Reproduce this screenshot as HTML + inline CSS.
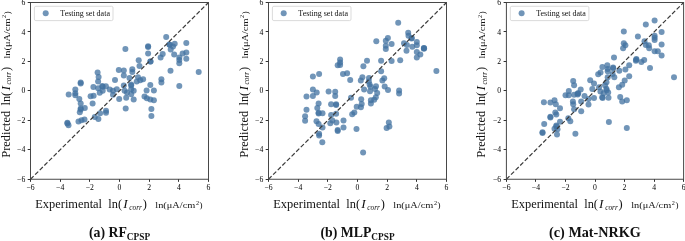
<!DOCTYPE html><html><head><meta charset="utf-8"><style>html,body{margin:0;padding:0;background:#fff}svg{display:block;will-change:transform;}text{font-family:"Liberation Serif",serif;}</style></head><body>
<svg width="685" height="241" viewBox="0 0 685 241">
<rect width="685" height="241" fill="#fff"/>
<g>
<g fill="rgba(66,114,160,0.75)">
<circle cx="166.2" cy="37.0" r="3.0"/>
<circle cx="186.3" cy="42.9" r="3.0"/>
<circle cx="174.7" cy="43.8" r="3.0"/>
<circle cx="169.3" cy="44.4" r="3.0"/>
<circle cx="169.7" cy="44.8" r="3.0"/>
<circle cx="173.0" cy="46.6" r="3.0"/>
<circle cx="170.7" cy="49.4" r="3.0"/>
<circle cx="148.1" cy="46.2" r="3.0"/>
<circle cx="148.1" cy="47.1" r="3.0"/>
<circle cx="125.4" cy="48.9" r="3.0"/>
<circle cx="148.1" cy="53.5" r="3.0"/>
<circle cx="162.7" cy="54.0" r="3.0"/>
<circle cx="160.6" cy="57.4" r="3.0"/>
<circle cx="174.2" cy="54.4" r="3.0"/>
<circle cx="186.3" cy="52.4" r="3.0"/>
<circle cx="182.6" cy="53.5" r="3.0"/>
<circle cx="179.3" cy="57.4" r="3.0"/>
<circle cx="179.3" cy="59.9" r="3.0"/>
<circle cx="186.3" cy="58.7" r="3.0"/>
<circle cx="138.7" cy="60.2" r="3.0"/>
<circle cx="150.3" cy="61.5" r="3.0"/>
<circle cx="118.8" cy="70.1" r="3.0"/>
<circle cx="123.8" cy="70.6" r="3.0"/>
<circle cx="97.6" cy="72.4" r="3.0"/>
<circle cx="98.6" cy="77.1" r="3.0"/>
<circle cx="123.8" cy="75.4" r="3.0"/>
<circle cx="115.0" cy="80.1" r="3.0"/>
<circle cx="98.1" cy="81.6" r="3.0"/>
<circle cx="80.7" cy="82.4" r="3.0"/>
<circle cx="80.7" cy="83.4" r="3.0"/>
<circle cx="93.4" cy="87.0" r="3.0"/>
<circle cx="102.2" cy="85.9" r="3.0"/>
<circle cx="102.7" cy="86.7" r="3.0"/>
<circle cx="105.9" cy="86.2" r="3.0"/>
<circle cx="98.1" cy="88.2" r="3.0"/>
<circle cx="123.8" cy="85.4" r="3.0"/>
<circle cx="75.3" cy="89.5" r="3.0"/>
<circle cx="109.7" cy="89.5" r="3.0"/>
<circle cx="113.0" cy="90.8" r="3.0"/>
<circle cx="116.8" cy="89.2" r="3.0"/>
<circle cx="102.7" cy="90.8" r="3.0"/>
<circle cx="99.7" cy="92.8" r="3.0"/>
<circle cx="68.7" cy="94.5" r="3.0"/>
<circle cx="75.3" cy="93.2" r="3.0"/>
<circle cx="124.6" cy="90.8" r="3.0"/>
<circle cx="113.0" cy="94.8" r="3.0"/>
<circle cx="150.6" cy="61.6" r="3.0"/>
<circle cx="179.3" cy="63.3" r="3.0"/>
<circle cx="139.5" cy="66.0" r="3.0"/>
<circle cx="132.3" cy="69.3" r="3.0"/>
<circle cx="132.3" cy="72.1" r="3.0"/>
<circle cx="170.5" cy="70.8" r="3.0"/>
<circle cx="198.7" cy="72.1" r="3.0"/>
<circle cx="138.0" cy="77.2" r="3.0"/>
<circle cx="143.1" cy="79.2" r="3.0"/>
<circle cx="140.2" cy="80.2" r="3.0"/>
<circle cx="129.5" cy="77.9" r="3.0"/>
<circle cx="136.7" cy="81.4" r="3.0"/>
<circle cx="161.4" cy="79.2" r="3.0"/>
<circle cx="161.4" cy="82.6" r="3.0"/>
<circle cx="150.3" cy="85.0" r="3.0"/>
<circle cx="179.3" cy="85.9" r="3.0"/>
<circle cx="131.2" cy="84.5" r="3.0"/>
<circle cx="131.2" cy="85.4" r="3.0"/>
<circle cx="127.0" cy="92.5" r="3.0"/>
<circle cx="131.2" cy="89.2" r="3.0"/>
<circle cx="133.7" cy="90.8" r="3.0"/>
<circle cx="131.2" cy="94.2" r="3.0"/>
<circle cx="146.6" cy="90.4" r="3.0"/>
<circle cx="153.9" cy="90.4" r="3.0"/>
<circle cx="75.3" cy="95.3" r="3.0"/>
<circle cx="90.6" cy="96.2" r="3.0"/>
<circle cx="93.6" cy="95.7" r="3.0"/>
<circle cx="79.3" cy="99.1" r="3.0"/>
<circle cx="119.2" cy="99.1" r="3.0"/>
<circle cx="80.7" cy="103.6" r="3.0"/>
<circle cx="92.6" cy="103.6" r="3.0"/>
<circle cx="84.8" cy="108.1" r="3.0"/>
<circle cx="80.7" cy="108.6" r="3.0"/>
<circle cx="80.7" cy="109.6" r="3.0"/>
<circle cx="79.8" cy="112.2" r="3.0"/>
<circle cx="106.0" cy="110.8" r="3.0"/>
<circle cx="106.0" cy="112.7" r="3.0"/>
<circle cx="100.1" cy="113.2" r="3.0"/>
<circle cx="94.8" cy="116.9" r="3.0"/>
<circle cx="98.4" cy="118.9" r="3.0"/>
<circle cx="84.5" cy="119.4" r="3.0"/>
<circle cx="81.5" cy="120.2" r="3.0"/>
<circle cx="78.5" cy="121.5" r="3.0"/>
<circle cx="67.4" cy="122.7" r="3.0"/>
<circle cx="67.4" cy="123.4" r="3.0"/>
<circle cx="68.5" cy="125.2" r="3.0"/>
<circle cx="126.2" cy="97.8" r="3.0"/>
<circle cx="133.7" cy="99.5" r="3.0"/>
<circle cx="144.5" cy="96.5" r="3.0"/>
<circle cx="146.9" cy="98.3" r="3.0"/>
<circle cx="150.3" cy="99.5" r="3.0"/>
<circle cx="153.9" cy="100.3" r="3.0"/>
<circle cx="125.7" cy="108.6" r="3.0"/>
<circle cx="151.4" cy="109.1" r="3.0"/>
<circle cx="151.4" cy="116.1" r="3.0"/>
</g>
<line x1="30.5" y1="179.25" x2="208.5" y2="2.5" stroke="#3a3a3a" stroke-width="1.2" stroke-dasharray="4.4 2.1"/>
<rect x="30.5" y="2.5" width="178" height="176.75" fill="none" stroke="#484848" stroke-width="1"/>
<line x1="30.50" y1="179.25" x2="30.50" y2="181.85" stroke="#333" stroke-width="1"/>
<line x1="27.7" y1="179.50" x2="30.5" y2="179.50" stroke="#333" stroke-width="1"/>
<text x="30.50" y="190.25"  font-size="7.7" text-anchor="middle" fill="#000">−6</text>
<text x="25.3" y="181.85"  font-size="7.7" text-anchor="end" fill="#000">−6</text>
<line x1="60.50" y1="179.25" x2="60.50" y2="181.85" stroke="#333" stroke-width="1"/>
<line x1="27.7" y1="149.50" x2="30.5" y2="149.50" stroke="#333" stroke-width="1"/>
<text x="60.17" y="190.25"  font-size="7.7" text-anchor="middle" fill="#000">−4</text>
<text x="25.3" y="152.39"  font-size="7.7" text-anchor="end" fill="#000">−4</text>
<line x1="89.50" y1="179.25" x2="89.50" y2="181.85" stroke="#333" stroke-width="1"/>
<line x1="27.7" y1="120.50" x2="30.5" y2="120.50" stroke="#333" stroke-width="1"/>
<text x="89.83" y="190.25"  font-size="7.7" text-anchor="middle" fill="#000">−2</text>
<text x="25.3" y="122.93"  font-size="7.7" text-anchor="end" fill="#000">−2</text>
<line x1="119.50" y1="179.25" x2="119.50" y2="181.85" stroke="#333" stroke-width="1"/>
<line x1="27.7" y1="90.50" x2="30.5" y2="90.50" stroke="#333" stroke-width="1"/>
<text x="119.50" y="190.25"  font-size="7.7" text-anchor="middle" fill="#000">0</text>
<text x="25.3" y="93.47"  font-size="7.7" text-anchor="end" fill="#000">0</text>
<line x1="149.50" y1="179.25" x2="149.50" y2="181.85" stroke="#333" stroke-width="1"/>
<line x1="27.7" y1="61.50" x2="30.5" y2="61.50" stroke="#333" stroke-width="1"/>
<text x="149.17" y="190.25"  font-size="7.7" text-anchor="middle" fill="#000">2</text>
<text x="25.3" y="64.02"  font-size="7.7" text-anchor="end" fill="#000">2</text>
<line x1="178.50" y1="179.25" x2="178.50" y2="181.85" stroke="#333" stroke-width="1"/>
<line x1="27.7" y1="31.50" x2="30.5" y2="31.50" stroke="#333" stroke-width="1"/>
<text x="178.83" y="190.25"  font-size="7.7" text-anchor="middle" fill="#000">4</text>
<text x="25.3" y="34.56"  font-size="7.7" text-anchor="end" fill="#000">4</text>
<line x1="208.50" y1="179.25" x2="208.50" y2="181.85" stroke="#333" stroke-width="1"/>
<line x1="27.7" y1="2.50" x2="30.5" y2="2.50" stroke="#333" stroke-width="1"/>
<text x="208.50" y="190.25"  font-size="7.7" text-anchor="middle" fill="#000">6</text>
<text x="25.3" y="5.10"  font-size="7.7" text-anchor="end" fill="#000">6</text>
<rect x="34.4" y="6.3" width="78.6" height="14.3" rx="1.5" fill="#fff" fill-opacity="0.8" stroke="#ccc" stroke-width="0.7"/>
<circle cx="45.7" cy="13.3" r="3" fill="rgba(66,114,160,0.75)"/>
<text x="60.3" y="15.9"  font-size="8" fill="#111">Testing set data</text>
<g transform="translate(35.3,207.9)"><text x="0" y="0"  font-size="12.4" fill="#111">Experimental</text><text x="73.0" y="0"  font-size="12.4" fill="#111" textLength="13.7" lengthAdjust="spacingAndGlyphs">ln(</text><text x="87.9" y="0"  font-size="13.4" font-style="italic" fill="#111">I</text><text x="94.0" y="1.8"  font-size="8.7" font-style="italic" fill="#111" textLength="12.6" lengthAdjust="spacingAndGlyphs">corr</text><text x="107.4" y="0"  font-size="12.4" fill="#111">)</text><text x="120.0" y="0"  font-size="9" fill="#111" textLength="40" lengthAdjust="spacingAndGlyphs">ln(μA/cm</text><text x="160.6" y="-3.2"  font-size="6.2" fill="#111">2</text><text x="164.2" y="0"  font-size="9" fill="#111">)</text></g>
<g transform="translate(9.5,157.7) rotate(-90)"><text x="0" y="0"  font-size="12.4" fill="#111">Predicted</text><text x="52.2" y="0"  font-size="12.4" fill="#111" textLength="13.7" lengthAdjust="spacingAndGlyphs">ln(</text><text x="67.10000000000001" y="0"  font-size="13.4" font-style="italic" fill="#111">I</text><text x="73.2" y="1.8"  font-size="8.7" font-style="italic" fill="#111" textLength="12.6" lengthAdjust="spacingAndGlyphs">corr</text><text x="86.6" y="0"  font-size="12.4" fill="#111">)</text><text x="99.2" y="0"  font-size="9" fill="#111" textLength="40" lengthAdjust="spacingAndGlyphs">ln(μA/cm</text><text x="139.8" y="-3.2"  font-size="6.2" fill="#111">2</text><text x="143.4" y="0"  font-size="9" fill="#111">)</text></g>
<text x="119.50" y="237"  font-size="13.8" font-weight="bold" text-anchor="middle" fill="#111">(a) RF<tspan font-size="9.3" dy="3">CPSP</tspan></text>
</g>
<g>
<g fill="rgba(66,114,160,0.75)">
<circle cx="398.2" cy="22.8" r="3.0"/>
<circle cx="408.2" cy="32.7" r="3.0"/>
<circle cx="408.5" cy="35.7" r="3.0"/>
<circle cx="411.5" cy="38.5" r="3.0"/>
<circle cx="387.9" cy="37.9" r="3.0"/>
<circle cx="385.8" cy="40.7" r="3.0"/>
<circle cx="376.3" cy="41.2" r="3.0"/>
<circle cx="416.8" cy="41.9" r="3.0"/>
<circle cx="404.0" cy="43.2" r="3.0"/>
<circle cx="391.6" cy="44.0" r="3.0"/>
<circle cx="406.9" cy="44.9" r="3.0"/>
<circle cx="416.8" cy="45.2" r="3.0"/>
<circle cx="385.8" cy="45.7" r="3.0"/>
<circle cx="412.3" cy="46.8" r="3.0"/>
<circle cx="385.8" cy="49.1" r="3.0"/>
<circle cx="423.9" cy="48.0" r="3.0"/>
<circle cx="423.9" cy="48.8" r="3.0"/>
<circle cx="424.1" cy="48.3" r="3.0"/>
<circle cx="406.5" cy="50.8" r="3.0"/>
<circle cx="416.8" cy="52.0" r="3.0"/>
<circle cx="420.3" cy="54.6" r="3.0"/>
<circle cx="416.8" cy="57.4" r="3.0"/>
<circle cx="340.1" cy="59.6" r="3.0"/>
<circle cx="340.1" cy="62.4" r="3.0"/>
<circle cx="337.7" cy="65.2" r="3.0"/>
<circle cx="340.1" cy="64.9" r="3.0"/>
<circle cx="367.0" cy="60.7" r="3.0"/>
<circle cx="381.1" cy="60.7" r="3.0"/>
<circle cx="391.6" cy="61.1" r="3.0"/>
<circle cx="400.2" cy="60.2" r="3.0"/>
<circle cx="363.4" cy="66.2" r="3.0"/>
<circle cx="381.1" cy="71.2" r="3.0"/>
<circle cx="436.4" cy="70.9" r="3.0"/>
<circle cx="343.0" cy="74.0" r="3.0"/>
<circle cx="347.1" cy="73.2" r="3.0"/>
<circle cx="319.1" cy="74.0" r="3.0"/>
<circle cx="312.9" cy="76.5" r="3.0"/>
<circle cx="350.2" cy="80.1" r="3.0"/>
<circle cx="312.9" cy="89.4" r="3.0"/>
<circle cx="316.7" cy="92.6" r="3.0"/>
<circle cx="328.6" cy="91.4" r="3.0"/>
<circle cx="335.2" cy="91.8" r="3.0"/>
<circle cx="306.5" cy="96.4" r="3.0"/>
<circle cx="312.9" cy="95.9" r="3.0"/>
<circle cx="335.2" cy="95.9" r="3.0"/>
<circle cx="351.0" cy="97.7" r="3.0"/>
<circle cx="318.6" cy="103.5" r="3.0"/>
<circle cx="331.1" cy="104.2" r="3.0"/>
<circle cx="336.1" cy="104.2" r="3.0"/>
<circle cx="336.1" cy="105.0" r="3.0"/>
<circle cx="317.3" cy="108.0" r="3.0"/>
<circle cx="306.5" cy="109.7" r="3.0"/>
<circle cx="361.2" cy="99.2" r="3.0"/>
<circle cx="375.8" cy="97.2" r="3.0"/>
<circle cx="370.9" cy="100.2" r="3.0"/>
<circle cx="374.2" cy="99.7" r="3.0"/>
<circle cx="361.7" cy="103.9" r="3.0"/>
<circle cx="370.9" cy="103.5" r="3.0"/>
<circle cx="356.7" cy="106.8" r="3.0"/>
<circle cx="360.9" cy="107.2" r="3.0"/>
<circle cx="399.1" cy="90.6" r="3.0"/>
<circle cx="399.1" cy="93.6" r="3.0"/>
<circle cx="411.8" cy="38.0" r="3.0"/>
<circle cx="362.4" cy="77.3" r="3.0"/>
<circle cx="360.8" cy="80.4" r="3.0"/>
<circle cx="369.0" cy="78.1" r="3.0"/>
<circle cx="368.8" cy="81.5" r="3.0"/>
<circle cx="369.6" cy="84.4" r="3.0"/>
<circle cx="370.5" cy="86.8" r="3.0"/>
<circle cx="376.0" cy="86.2" r="3.0"/>
<circle cx="375.0" cy="88.9" r="3.0"/>
<circle cx="364.1" cy="89.6" r="3.0"/>
<circle cx="384.2" cy="78.3" r="3.0"/>
<circle cx="382.4" cy="80.5" r="3.0"/>
<circle cx="384.7" cy="86.4" r="3.0"/>
<circle cx="388.0" cy="90.1" r="3.0"/>
<circle cx="370.0" cy="91.3" r="3.0"/>
<circle cx="377.2" cy="93.0" r="3.0"/>
<circle cx="318.6" cy="112.7" r="3.0"/>
<circle cx="318.6" cy="113.5" r="3.0"/>
<circle cx="322.5" cy="113.3" r="3.0"/>
<circle cx="305.1" cy="116.3" r="3.0"/>
<circle cx="305.1" cy="120.8" r="3.0"/>
<circle cx="331.1" cy="115.0" r="3.0"/>
<circle cx="336.1" cy="113.8" r="3.0"/>
<circle cx="354.3" cy="112.5" r="3.0"/>
<circle cx="352.2" cy="114.3" r="3.0"/>
<circle cx="316.5" cy="121.3" r="3.0"/>
<circle cx="318.6" cy="124.1" r="3.0"/>
<circle cx="322.5" cy="127.6" r="3.0"/>
<circle cx="332.4" cy="120.4" r="3.0"/>
<circle cx="330.3" cy="123.3" r="3.0"/>
<circle cx="336.4" cy="122.6" r="3.0"/>
<circle cx="343.5" cy="120.4" r="3.0"/>
<circle cx="343.5" cy="127.6" r="3.0"/>
<circle cx="337.7" cy="130.1" r="3.0"/>
<circle cx="337.7" cy="130.9" r="3.0"/>
<circle cx="356.5" cy="129.1" r="3.0"/>
<circle cx="319.1" cy="133.7" r="3.0"/>
<circle cx="319.1" cy="135.4" r="3.0"/>
<circle cx="322.3" cy="142.3" r="3.0"/>
<circle cx="388.8" cy="122.6" r="3.0"/>
<circle cx="389.4" cy="126.6" r="3.0"/>
<circle cx="386.6" cy="127.9" r="3.0"/>
<circle cx="363.1" cy="152.4" r="3.0"/>
</g>
<line x1="268.5" y1="179.25" x2="446.5" y2="2.5" stroke="#3a3a3a" stroke-width="1.2" stroke-dasharray="4.4 2.1"/>
<rect x="268.5" y="2.5" width="178" height="176.75" fill="none" stroke="#484848" stroke-width="1"/>
<line x1="268.50" y1="179.25" x2="268.50" y2="181.85" stroke="#333" stroke-width="1"/>
<line x1="265.7" y1="179.50" x2="268.5" y2="179.50" stroke="#333" stroke-width="1"/>
<text x="268.50" y="190.25"  font-size="7.7" text-anchor="middle" fill="#000">−6</text>
<text x="263.3" y="181.85"  font-size="7.7" text-anchor="end" fill="#000">−6</text>
<line x1="298.50" y1="179.25" x2="298.50" y2="181.85" stroke="#333" stroke-width="1"/>
<line x1="265.7" y1="149.50" x2="268.5" y2="149.50" stroke="#333" stroke-width="1"/>
<text x="298.17" y="190.25"  font-size="7.7" text-anchor="middle" fill="#000">−4</text>
<text x="263.3" y="152.39"  font-size="7.7" text-anchor="end" fill="#000">−4</text>
<line x1="327.50" y1="179.25" x2="327.50" y2="181.85" stroke="#333" stroke-width="1"/>
<line x1="265.7" y1="120.50" x2="268.5" y2="120.50" stroke="#333" stroke-width="1"/>
<text x="327.83" y="190.25"  font-size="7.7" text-anchor="middle" fill="#000">−2</text>
<text x="263.3" y="122.93"  font-size="7.7" text-anchor="end" fill="#000">−2</text>
<line x1="357.50" y1="179.25" x2="357.50" y2="181.85" stroke="#333" stroke-width="1"/>
<line x1="265.7" y1="90.50" x2="268.5" y2="90.50" stroke="#333" stroke-width="1"/>
<text x="357.50" y="190.25"  font-size="7.7" text-anchor="middle" fill="#000">0</text>
<text x="263.3" y="93.47"  font-size="7.7" text-anchor="end" fill="#000">0</text>
<line x1="387.50" y1="179.25" x2="387.50" y2="181.85" stroke="#333" stroke-width="1"/>
<line x1="265.7" y1="61.50" x2="268.5" y2="61.50" stroke="#333" stroke-width="1"/>
<text x="387.17" y="190.25"  font-size="7.7" text-anchor="middle" fill="#000">2</text>
<text x="263.3" y="64.02"  font-size="7.7" text-anchor="end" fill="#000">2</text>
<line x1="416.50" y1="179.25" x2="416.50" y2="181.85" stroke="#333" stroke-width="1"/>
<line x1="265.7" y1="31.50" x2="268.5" y2="31.50" stroke="#333" stroke-width="1"/>
<text x="416.83" y="190.25"  font-size="7.7" text-anchor="middle" fill="#000">4</text>
<text x="263.3" y="34.56"  font-size="7.7" text-anchor="end" fill="#000">4</text>
<line x1="446.50" y1="179.25" x2="446.50" y2="181.85" stroke="#333" stroke-width="1"/>
<line x1="265.7" y1="2.50" x2="268.5" y2="2.50" stroke="#333" stroke-width="1"/>
<text x="446.50" y="190.25"  font-size="7.7" text-anchor="middle" fill="#000">6</text>
<text x="263.3" y="5.10"  font-size="7.7" text-anchor="end" fill="#000">6</text>
<rect x="272.4" y="6.3" width="78.6" height="14.3" rx="1.5" fill="#fff" fill-opacity="0.8" stroke="#ccc" stroke-width="0.7"/>
<circle cx="283.7" cy="13.3" r="3" fill="rgba(66,114,160,0.75)"/>
<text x="298.3" y="15.9"  font-size="8" fill="#111">Testing set data</text>
<g transform="translate(273.3,207.9)"><text x="0" y="0"  font-size="12.4" fill="#111">Experimental</text><text x="73.0" y="0"  font-size="12.4" fill="#111" textLength="13.7" lengthAdjust="spacingAndGlyphs">ln(</text><text x="87.9" y="0"  font-size="13.4" font-style="italic" fill="#111">I</text><text x="94.0" y="1.8"  font-size="8.7" font-style="italic" fill="#111" textLength="12.6" lengthAdjust="spacingAndGlyphs">corr</text><text x="107.4" y="0"  font-size="12.4" fill="#111">)</text><text x="120.0" y="0"  font-size="9" fill="#111" textLength="40" lengthAdjust="spacingAndGlyphs">ln(μA/cm</text><text x="160.6" y="-3.2"  font-size="6.2" fill="#111">2</text><text x="164.2" y="0"  font-size="9" fill="#111">)</text></g>
<g transform="translate(247.5,157.7) rotate(-90)"><text x="0" y="0"  font-size="12.4" fill="#111">Predicted</text><text x="52.2" y="0"  font-size="12.4" fill="#111" textLength="13.7" lengthAdjust="spacingAndGlyphs">ln(</text><text x="67.10000000000001" y="0"  font-size="13.4" font-style="italic" fill="#111">I</text><text x="73.2" y="1.8"  font-size="8.7" font-style="italic" fill="#111" textLength="12.6" lengthAdjust="spacingAndGlyphs">corr</text><text x="86.6" y="0"  font-size="12.4" fill="#111">)</text><text x="99.2" y="0"  font-size="9" fill="#111" textLength="40" lengthAdjust="spacingAndGlyphs">ln(μA/cm</text><text x="139.8" y="-3.2"  font-size="6.2" fill="#111">2</text><text x="143.4" y="0"  font-size="9" fill="#111">)</text></g>
<text x="357.50" y="237"  font-size="13.8" font-weight="bold" text-anchor="middle" fill="#111">(b) MLP<tspan font-size="9.3" dy="3">CPSP</tspan></text>
</g>
<g>
<g fill="rgba(66,114,160,0.75)">
<circle cx="654.6" cy="20.4" r="3.0"/>
<circle cx="645.8" cy="24.6" r="3.0"/>
<circle cx="623.8" cy="31.6" r="3.0"/>
<circle cx="661.6" cy="31.9" r="3.0"/>
<circle cx="637.9" cy="36.5" r="3.0"/>
<circle cx="654.6" cy="35.7" r="3.0"/>
<circle cx="654.6" cy="37.7" r="3.0"/>
<circle cx="654.6" cy="39.9" r="3.0"/>
<circle cx="644.5" cy="41.2" r="3.0"/>
<circle cx="623.8" cy="43.2" r="3.0"/>
<circle cx="625.4" cy="45.2" r="3.0"/>
<circle cx="645.8" cy="44.9" r="3.0"/>
<circle cx="648.8" cy="45.2" r="3.0"/>
<circle cx="661.6" cy="44.4" r="3.0"/>
<circle cx="623.1" cy="48.3" r="3.0"/>
<circle cx="649.2" cy="48.3" r="3.0"/>
<circle cx="654.6" cy="51.3" r="3.0"/>
<circle cx="657.8" cy="51.3" r="3.0"/>
<circle cx="661.6" cy="55.4" r="3.0"/>
<circle cx="614.0" cy="57.4" r="3.0"/>
<circle cx="636.4" cy="59.1" r="3.0"/>
<circle cx="635.9" cy="60.7" r="3.0"/>
<circle cx="644.2" cy="59.9" r="3.0"/>
<circle cx="641.4" cy="62.1" r="3.0"/>
<circle cx="629.2" cy="65.2" r="3.0"/>
<circle cx="650.0" cy="67.9" r="3.0"/>
<circle cx="607.3" cy="65.2" r="3.0"/>
<circle cx="602.4" cy="66.9" r="3.0"/>
<circle cx="613.1" cy="67.5" r="3.0"/>
<circle cx="613.1" cy="68.2" r="3.0"/>
<circle cx="607.7" cy="69.0" r="3.0"/>
<circle cx="607.7" cy="71.2" r="3.0"/>
<circle cx="625.4" cy="69.5" r="3.0"/>
<circle cx="619.3" cy="70.7" r="3.0"/>
<circle cx="600.5" cy="72.4" r="3.0"/>
<circle cx="598.2" cy="74.3" r="3.0"/>
<circle cx="612.6" cy="74.0" r="3.0"/>
<circle cx="629.2" cy="76.2" r="3.0"/>
<circle cx="607.7" cy="77.3" r="3.0"/>
<circle cx="614.3" cy="77.3" r="3.0"/>
<circle cx="674.0" cy="77.3" r="3.0"/>
<circle cx="590.2" cy="80.3" r="3.0"/>
<circle cx="573.2" cy="81.0" r="3.0"/>
<circle cx="594.0" cy="83.5" r="3.0"/>
<circle cx="574.1" cy="85.3" r="3.0"/>
<circle cx="624.7" cy="80.6" r="3.0"/>
<circle cx="622.2" cy="84.8" r="3.0"/>
<circle cx="618.9" cy="87.3" r="3.0"/>
<circle cx="592.3" cy="88.9" r="3.0"/>
<circle cx="580.7" cy="89.4" r="3.0"/>
<circle cx="568.8" cy="90.9" r="3.0"/>
<circle cx="565.5" cy="95.2" r="3.0"/>
<circle cx="568.8" cy="95.2" r="3.0"/>
<circle cx="574.1" cy="94.7" r="3.0"/>
<circle cx="577.7" cy="93.6" r="3.0"/>
<circle cx="577.7" cy="94.4" r="3.0"/>
<circle cx="584.5" cy="96.1" r="3.0"/>
<circle cx="594.0" cy="98.1" r="3.0"/>
<circle cx="620.2" cy="96.9" r="3.0"/>
<circle cx="622.2" cy="101.4" r="3.0"/>
<circle cx="626.8" cy="100.2" r="3.0"/>
<circle cx="543.9" cy="102.2" r="3.0"/>
<circle cx="550.4" cy="102.5" r="3.0"/>
<circle cx="554.5" cy="100.2" r="3.0"/>
<circle cx="555.8" cy="104.2" r="3.0"/>
<circle cx="560.0" cy="108.3" r="3.0"/>
<circle cx="572.9" cy="101.4" r="3.0"/>
<circle cx="573.2" cy="104.2" r="3.0"/>
<circle cx="581.2" cy="101.4" r="3.0"/>
<circle cx="588.5" cy="98.9" r="3.0"/>
<circle cx="588.5" cy="104.4" r="3.0"/>
<circle cx="574.1" cy="109.3" r="3.0"/>
<circle cx="581.2" cy="111.3" r="3.0"/>
<circle cx="636.2" cy="59.8" r="3.0"/>
<circle cx="578.2" cy="93.2" r="3.0"/>
<circle cx="606.5" cy="82.3" r="3.0"/>
<circle cx="605.0" cy="85.3" r="3.0"/>
<circle cx="606.4" cy="88.8" r="3.0"/>
<circle cx="606.6" cy="90.3" r="3.0"/>
<circle cx="600.4" cy="91.6" r="3.0"/>
<circle cx="599.1" cy="87.2" r="3.0"/>
<circle cx="603.6" cy="93.2" r="3.0"/>
<circle cx="608.2" cy="92.6" r="3.0"/>
<circle cx="602.2" cy="97.2" r="3.0"/>
<circle cx="602.6" cy="98.0" r="3.0"/>
<circle cx="608.5" cy="97.8" r="3.0"/>
<circle cx="555.3" cy="112.5" r="3.0"/>
<circle cx="556.3" cy="114.6" r="3.0"/>
<circle cx="550.4" cy="116.8" r="3.0"/>
<circle cx="550.4" cy="117.6" r="3.0"/>
<circle cx="568.3" cy="118.3" r="3.0"/>
<circle cx="570.3" cy="121.3" r="3.0"/>
<circle cx="560.0" cy="121.8" r="3.0"/>
<circle cx="544.2" cy="124.1" r="3.0"/>
<circle cx="556.3" cy="125.6" r="3.0"/>
<circle cx="556.3" cy="126.4" r="3.0"/>
<circle cx="554.5" cy="128.7" r="3.0"/>
<circle cx="557.5" cy="129.2" r="3.0"/>
<circle cx="542.5" cy="132.2" r="3.0"/>
<circle cx="542.5" cy="133.1" r="3.0"/>
<circle cx="557.0" cy="134.6" r="3.0"/>
<circle cx="575.4" cy="133.7" r="3.0"/>
<circle cx="608.9" cy="122.1" r="3.0"/>
<circle cx="626.8" cy="127.9" r="3.0"/>
</g>
<line x1="506.4" y1="179.25" x2="683.5999999999999" y2="2.5" stroke="#3a3a3a" stroke-width="1.2" stroke-dasharray="4.4 2.1"/>
<rect x="506.4" y="2.5" width="177.2" height="176.75" fill="none" stroke="#484848" stroke-width="1"/>
<line x1="506.50" y1="179.25" x2="506.50" y2="181.85" stroke="#333" stroke-width="1"/>
<line x1="503.59999999999997" y1="179.50" x2="506.4" y2="179.50" stroke="#333" stroke-width="1"/>
<text x="506.40" y="190.25"  font-size="7.7" text-anchor="middle" fill="#000">−6</text>
<text x="501.2" y="181.85"  font-size="7.7" text-anchor="end" fill="#000">−6</text>
<line x1="535.50" y1="179.25" x2="535.50" y2="181.85" stroke="#333" stroke-width="1"/>
<line x1="503.59999999999997" y1="149.50" x2="506.4" y2="149.50" stroke="#333" stroke-width="1"/>
<text x="535.93" y="190.25"  font-size="7.7" text-anchor="middle" fill="#000">−4</text>
<text x="501.2" y="152.39"  font-size="7.7" text-anchor="end" fill="#000">−4</text>
<line x1="565.50" y1="179.25" x2="565.50" y2="181.85" stroke="#333" stroke-width="1"/>
<line x1="503.59999999999997" y1="120.50" x2="506.4" y2="120.50" stroke="#333" stroke-width="1"/>
<text x="565.47" y="190.25"  font-size="7.7" text-anchor="middle" fill="#000">−2</text>
<text x="501.2" y="122.93"  font-size="7.7" text-anchor="end" fill="#000">−2</text>
<line x1="595.50" y1="179.25" x2="595.50" y2="181.85" stroke="#333" stroke-width="1"/>
<line x1="503.59999999999997" y1="90.50" x2="506.4" y2="90.50" stroke="#333" stroke-width="1"/>
<text x="595.00" y="190.25"  font-size="7.7" text-anchor="middle" fill="#000">0</text>
<text x="501.2" y="93.47"  font-size="7.7" text-anchor="end" fill="#000">0</text>
<line x1="624.50" y1="179.25" x2="624.50" y2="181.85" stroke="#333" stroke-width="1"/>
<line x1="503.59999999999997" y1="61.50" x2="506.4" y2="61.50" stroke="#333" stroke-width="1"/>
<text x="624.53" y="190.25"  font-size="7.7" text-anchor="middle" fill="#000">2</text>
<text x="501.2" y="64.02"  font-size="7.7" text-anchor="end" fill="#000">2</text>
<line x1="654.50" y1="179.25" x2="654.50" y2="181.85" stroke="#333" stroke-width="1"/>
<line x1="503.59999999999997" y1="31.50" x2="506.4" y2="31.50" stroke="#333" stroke-width="1"/>
<text x="654.07" y="190.25"  font-size="7.7" text-anchor="middle" fill="#000">4</text>
<text x="501.2" y="34.56"  font-size="7.7" text-anchor="end" fill="#000">4</text>
<line x1="683.50" y1="179.25" x2="683.50" y2="181.85" stroke="#333" stroke-width="1"/>
<line x1="503.59999999999997" y1="2.50" x2="506.4" y2="2.50" stroke="#333" stroke-width="1"/>
<text x="683.60" y="190.25"  font-size="7.7" text-anchor="middle" fill="#000">6</text>
<text x="501.2" y="5.10"  font-size="7.7" text-anchor="end" fill="#000">6</text>
<rect x="510.29999999999995" y="6.3" width="78.6" height="14.3" rx="1.5" fill="#fff" fill-opacity="0.8" stroke="#ccc" stroke-width="0.7"/>
<circle cx="521.6" cy="13.3" r="3" fill="rgba(66,114,160,0.75)"/>
<text x="536.1999999999999" y="15.9"  font-size="8" fill="#111">Testing set data</text>
<g transform="translate(511.2,207.9)"><text x="0" y="0"  font-size="12.4" fill="#111">Experimental</text><text x="73.0" y="0"  font-size="12.4" fill="#111" textLength="13.7" lengthAdjust="spacingAndGlyphs">ln(</text><text x="87.9" y="0"  font-size="13.4" font-style="italic" fill="#111">I</text><text x="94.0" y="1.8"  font-size="8.7" font-style="italic" fill="#111" textLength="12.6" lengthAdjust="spacingAndGlyphs">corr</text><text x="107.4" y="0"  font-size="12.4" fill="#111">)</text><text x="120.0" y="0"  font-size="9" fill="#111" textLength="40" lengthAdjust="spacingAndGlyphs">ln(μA/cm</text><text x="160.6" y="-3.2"  font-size="6.2" fill="#111">2</text><text x="164.2" y="0"  font-size="9" fill="#111">)</text></g>
<g transform="translate(485.4,157.7) rotate(-90)"><text x="0" y="0"  font-size="12.4" fill="#111">Predicted</text><text x="52.2" y="0"  font-size="12.4" fill="#111" textLength="13.7" lengthAdjust="spacingAndGlyphs">ln(</text><text x="67.10000000000001" y="0"  font-size="13.4" font-style="italic" fill="#111">I</text><text x="73.2" y="1.8"  font-size="8.7" font-style="italic" fill="#111" textLength="12.6" lengthAdjust="spacingAndGlyphs">corr</text><text x="86.6" y="0"  font-size="12.4" fill="#111">)</text><text x="99.2" y="0"  font-size="9" fill="#111" textLength="40" lengthAdjust="spacingAndGlyphs">ln(μA/cm</text><text x="139.8" y="-3.2"  font-size="6.2" fill="#111">2</text><text x="143.4" y="0"  font-size="9" fill="#111">)</text></g>
<text x="595.00" y="237"  font-size="14.2" font-weight="bold" text-anchor="middle" fill="#111">(c) Mat-NRKG<tspan font-size="9.3" dy="3"></tspan></text>
</g>
</svg></body></html>
